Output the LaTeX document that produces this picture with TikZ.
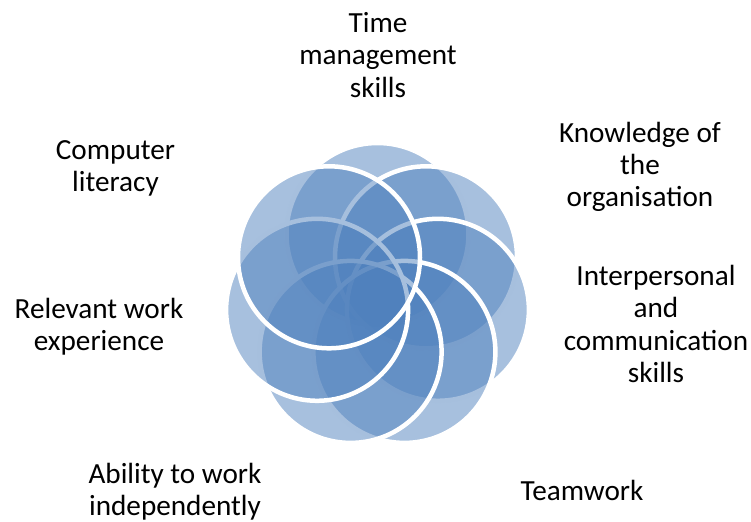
\documentclass[tikz,border=0pt]{standalone}
\usepackage{fontspec}
\setmainfont{Carlito}
\definecolor{petalblue}{HTML}{4F81BD}
\tikzset{
  petal/.style={circle, minimum size=91pt, inner sep=0pt, fill=petalblue, fill opacity=0.5, draw=white, line width=2.25pt},
  lbl/.style={align=center, inner sep=0pt, font=\fontsize{14.6}{16.1}\selectfont}
}
\begin{document}
\begin{tikzpicture}[x=0.5pt, y=-0.5pt]
        \useasboundingbox (0,0) rectangle (751,521);
        \node[petal] (time) at (377.5,234) {};
        \node[petal] (know) at (426.0,257.3) {};
        \node[petal] (inter) at (437.9,309.8) {};
        \node[petal] (team) at (404.4,351.9) {};
        \node[petal] (abil) at (350.6,351.9) {};
        \node[petal] (relev) at (317.1,309.8) {};
        \node[petal] (comp) at (329.0,257.3) {};
        \node[lbl] (ltime) at (378,55) {Time\\management\\skills};
        \node[lbl] (lknow) at (640,167) {Knowledge of\\the\\organisation};
        \node[lbl] (linter) at (656,324) {Interpersonal\\and\\communication\\skills};
        \node[lbl] (lteam) at (582,490) {Teamwork};
        \node[lbl] (labil) at (175,492) {Ability to work\\independently};
        \node[lbl] (lrelev) at (99,327) {Relevant work\\experience};
        \node[lbl] (lcomp) at (115.5,168) {Computer\\literacy};
\end{tikzpicture}
\end{document}
